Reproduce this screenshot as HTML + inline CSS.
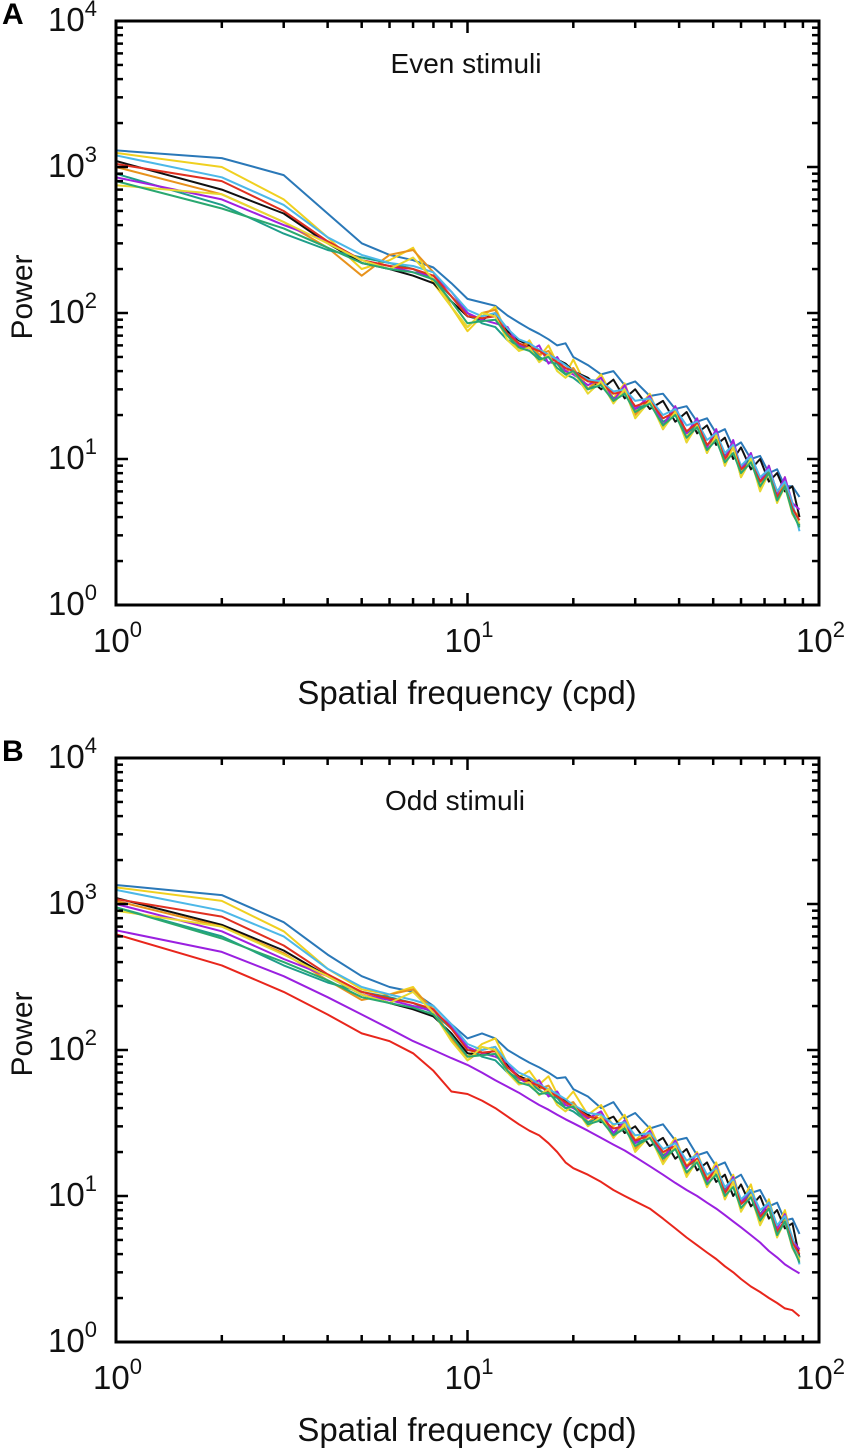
<!DOCTYPE html>
<html><head><meta charset="utf-8"><style>
html,body{margin:0;padding:0;background:#fff;}
svg{display:block;font-family:"Liberation Sans",Arial,sans-serif;}
</style></head><body>
<svg id="fig" width="850" height="1452" viewBox="0 0 850 1452" xmlns="http://www.w3.org/2000/svg"></svg>
<script>
const freqs=[1,2,3,4,5,6,7,8,9,10,11,12,13,14,15,16,17,18,19,20,22,24,26,28,30,33,36,39,42,45,48,51,54,57,60,64,68,72,76,80,84,88];
const xTickLabels=["0","1","2"];
const yTickLabels=["0","1","2","3","4"];
const colors=["#2a78b8","#f0d020","#111111","#e8921c","#1e9e8a","#a020e0","#4cb8e8","#e03020","#e8d830","#2aa870"];
const seriesA=[
[1300,1150,880,480,300,250,230,205,160,125,118,112,96,86,78,72,66,60,62,50,44,38,40,32,34,27,28,22,23,18,19,15,16,12,13,10,10.5,8,8.5,6.5,6.5,5.5],
[1250,1000,600,330,200,230,280,160,110,75,95,110,70,55,65,50,60,45,38,48,30,38,26,33,21,28,17,23,14,19,12,16,10,13,8,11,6.5,9,5.5,7.5,4.5,4],
[1100,700,480,300,220,200,180,160,120,95,90,100,75,65,60,55,52,48,45,40,36,30,35,26,30,22,25,18,21,15,17,12.5,14,10,12,8.5,10,7,8,6,6.5,4],
[1000,650,420,280,180,250,270,190,110,80,100,105,70,60,62,52,55,45,40,42,30,36,25,32,20,26,16,22,13,18,11,15,9,12.5,7.5,10,6.2,8.5,5.2,7,4.2,3.5],
[900,550,350,270,240,220,200,170,130,100,85,80,65,60,58,50,46,45,38,36,30,33,26,28,22,24,18,20,15,17,12.5,14,10.5,12,8.5,10,7,8.5,6,7,4.8,3.5],
[850,600,400,310,230,210,190,180,140,100,90,85,80,60,55,60,45,50,40,38,32,36,25,32,22,27,17,23,15,19,12,16,10,13.5,8.5,11,7,9,5.8,7.5,5,4.5],
[1200,850,550,330,250,220,210,190,140,105,95,100,78,66,62,56,52,48,44,40,35,34,29,30,25,26,20,22,17,18,13.5,15,11,12.5,9,10.5,7.5,8.5,6,7,5,3.2],
[1050,800,500,310,230,210,200,180,130,95,92,95,72,62,58,55,50,46,42,40,34,33,28,29,23,25,19,21,15.5,17.5,12.5,14.5,10,12,8.5,9.5,7,8,5.5,6.5,4.6,3.8],
[750,650,420,300,230,200,240,170,110,80,100,95,65,55,58,46,52,40,36,40,28,34,24,30,19,25,16,21,13,17,11,14.5,9,12,7.5,10,6,8,5,6.5,4.2,3.6],
[800,520,380,280,220,200,190,170,120,85,88,90,70,58,55,48,50,42,38,40,30,32,25,28,21,24,17,20,14,16.5,11.5,13.5,9.5,11,8,9.5,6.5,8,5.2,6.5,4.3,3.4]
];
const seriesB=[
[1350,1150,750,450,320,270,250,200,150,120,130,120,100,90,82,76,70,64,65,54,48,40,44,34,37,29,31,24,25,19,20,16,17,13,14,10.5,11,8.5,9,6.8,7,5.5],
[1300,1050,650,360,260,240,270,180,120,90,110,120,80,65,72,58,66,50,45,52,36,42,30,36,24,30,19,25,16,20,13,17,11,14,9,12,7,9.5,6,8,5,4.2],
[1100,720,480,320,240,210,190,170,130,95,92,100,78,66,62,56,53,48,45,42,36,32,35,27,30,22,25,18,21,15,17,12.5,14,10,12,8.5,10,7,8,6,6.5,3.8],
[1050,700,460,300,220,240,260,190,120,85,100,105,72,62,64,54,57,47,42,44,32,37,26,32,21,27,17,22,14,18,11.5,15,9.5,12.5,8,10,6.5,8.5,5.3,7,4.4,3.6],
[950,600,380,290,250,230,210,180,140,105,90,85,70,64,60,53,49,47,40,38,32,34,27,29,23,25,19,21,16,17.5,13,14.5,11,12.5,9,10.5,7.5,9,6.2,7.2,5,3.8],
[1000,650,420,320,240,220,200,185,145,105,95,90,82,64,58,62,48,52,42,40,34,38,27,33,23,28,18,24,15.5,19.5,12.5,16,10.5,13.5,9,11,7.3,9,6,7.5,5,4.3],
[1250,900,600,360,270,240,220,200,150,110,100,105,82,70,65,58,54,50,46,42,37,36,31,32,26,27,21,23,17.5,19,14,15.5,11.5,13,9.5,11,8,9,6.3,7.3,5.2,3.4],
[1080,820,520,330,250,225,210,190,140,100,96,98,76,65,60,57,52,48,44,41,35,34,29,30,24,26,20,22,16,18,13,15,10.5,12.5,8.8,10,7.2,8.3,5.7,6.8,4.8,4.0],
[900,700,450,320,240,210,250,180,115,85,105,100,70,58,60,49,54,42,38,42,30,35,25,31,20,26,16.5,22,13.5,17.5,11.5,15,9.5,12.5,7.8,10.2,6.3,8.3,5.2,6.8,4.4,3.7],
[950,580,400,300,230,210,195,175,125,90,92,94,72,60,57,50,51,44,40,41,31,33,26,29,22,25,18,21,14.5,17,12,14,10,11.5,8.3,9.8,6.8,8.2,5.4,6.7,4.5,3.5]
];
const purpleB=[660,470,320,230,175,140,115,100,88,79,70,62,56,51,46,42,39,36,33.5,31.5,28,25,22.5,20.5,18.5,16,14,12.3,11,10,9,8.2,7.4,6.7,6.1,5.4,4.8,4.2,3.8,3.4,3.15,2.95];
const redB=[620,380,250,175,130,115,95,72,52,50,45,40,35,31,28,26,23,20,17,15.5,14,12.5,11,10,9.2,8.2,7,6,5.2,4.6,4.1,3.7,3.3,3,2.7,2.4,2.2,2.0,1.85,1.7,1.65,1.5];

const NS="http://www.w3.org/2000/svg";
const svg=document.getElementById('fig');
function mk(tag,attrs,parent){const e=document.createElementNS(NS,tag);for(const k in attrs)e.setAttribute(k,attrs[k]);(parent||svg).appendChild(e);return e;}

function panel(p){
  const L=116,R=819,T=p.top,B=p.top+584;
  const xs=v=>L+(Math.log10(v))/2*(R-L);
  const ys=v=>B-(Math.log10(v))/4*(B-T);
  const g=mk('g',{});
  
  
  const sg=mk('g',{fill:'none','stroke-width':2,'stroke-linejoin':'round'},g);
  
  
  p.series.forEach((s,i)=>{
    const d=s.map((v,j)=>(j?'L':'M')+xs(freqs[j]).toFixed(1)+' '+ys(v).toFixed(1)).join(' ');
    const pth=mk('path',{d:d,stroke:colors[i%colors.length]},sg);
    
    
  });
  (p.extra||[]).forEach(ex=>{
    const d=ex.data.map((v,j)=>(j?'L':'M')+xs(freqs[j]).toFixed(1)+' '+ys(v).toFixed(1)).join(' ');
    const pth=mk('path',{d:d,stroke:ex.color},sg);
    
    
  });
  const fr=mk('rect',{x:L,y:T,width:R-L,height:B-T,fill:'none',stroke:'#000','stroke-width':3},g);
  
  
  const tg=mk('g',{stroke:'#000','stroke-width':2.5},g);
  
  
  for(let d=0;d<2;d++)for(let m=1;m<10;m++){
    const v=m*Math.pow(10,d);if(m===1&&d===0)continue;
    const x=xs(v),len=m===1?12:7;
    mk('line',{x1:x,y1:B,x2:x,y2:B-len},tg);mk('line',{x1:x,y1:T,x2:x,y2:T+len},tg);
  }
  for(let d=0;d<4;d++)for(let m=1;m<10;m++){
    const v=m*Math.pow(10,d);if(m===1&&d===0)continue;
    const y=ys(v),len=m===1?12:7;
    mk('line',{x1:L,y1:y,x2:L+len,y2:y},tg);mk('line',{x1:R,y1:y,x2:R-len,y2:y},tg);
  }
  xTickLabels.forEach((e,i)=>{
    const t=mk('text',{x:xs(Math.pow(10,i))-23,y:B+47,'font-size':33,fill:'#111'},g);
    
    
    t.textContent='10';
    const s=mk('tspan',{dy:-15,'font-size':22},t);s.textContent=e;
  });
  yTickLabels.forEach((e,i)=>{
    const t=mk('text',{x:97,y:ys(Math.pow(10,i))+10,'font-size':33,'text-anchor':'end',fill:'#111'},g);
    
    
    t.textContent='10';
    const s=mk('tspan',{dy:-15,'font-size':22},t);s.textContent=e;
  });
  const xt=mk('text',{x:467,y:B+99,'font-size':33,'text-anchor':'middle',fill:'#111'},g);
  
  
  xt.textContent='Spatial frequency (cpd)';
  const yt=mk('text',{x:0,y:0,'font-size':30,'text-anchor':'middle',fill:'#111',transform:`translate(32,${(T+B)/2-16}) rotate(-90)`},g);
  
  
  yt.textContent='Power';
  const ti=mk('text',{x:p.titleX,y:T+52,'font-size':28,'text-anchor':'middle',fill:'#111'},g);
  
  
  ti.textContent=p.title;
  const lt=mk('text',{x:2,y:T+3,'font-size':30,'font-weight':'bold',fill:'#000'},g);
  
  
  lt.textContent=p.letter;
}
panel({name:'panel-a',top:21,series:seriesA,title:'Even stimuli',titleX:466,letter:'A'});
panel({name:'panel-b',top:758,series:seriesB,title:'Odd stimuli',titleX:455,letter:'B',
  extra:[{data:purpleB,color:'#9a20e0',name:'panel-b-purple-line'},{data:redB,color:'#e8261c',name:'panel-b-red-line'}]});
</script>
</body></html>
